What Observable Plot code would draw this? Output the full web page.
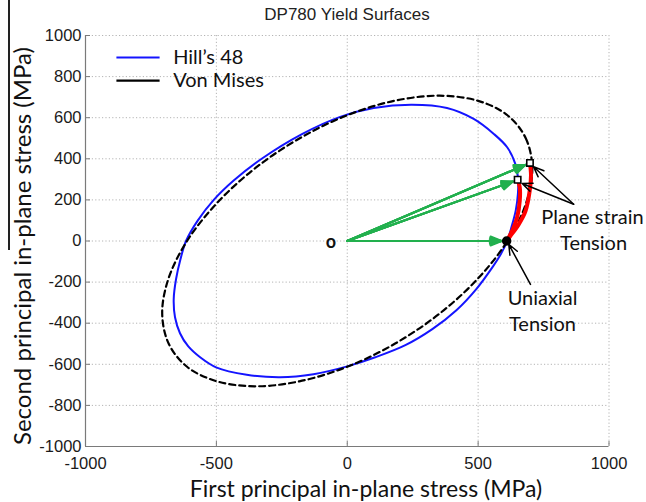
<!DOCTYPE html>
<html>
<head>
<meta charset="utf-8">
<script src="https://cdn.jsdelivr.net/npm/d3@7"></script>
<script src="https://cdn.jsdelivr.net/npm/@observablehq/plot@0.6"></script>
<style>
  body { margin: 0; background: #fff; }
  #fig { position: relative; width: 646px; height: 502px; overflow: hidden; }
  #fig svg { position: absolute; left: 0; top: 0; }
  .lbl { position: absolute; white-space: nowrap; color: #111; font-family: Lato, "Open Sans", sans-serif; }
  #title { left: 0; width: 694px; top: 5px; text-align: center; font: 17px "Liberation Sans", Arial, sans-serif; color: #222; }
  #xlabel { left: 0; width: 732px; top: 474px; text-align: center; font-size: 23px; }
  #ylabel { left: 21px; top: 246px; font-size: 24px; transform: translate(-50%, -50%) rotate(-90deg); }
  #edge { position: absolute; left: 8px; top: 0; width: 1.5px; height: 250px; background: #222; }
</style>
</head>
<body>
<div id="fig">
  <div id="edge"></div>
  <div class="lbl" id="title">DP780 Yield Surfaces</div>
  <div class="lbl" id="xlabel">First principal in-plane stress (MPa)</div>
  <div class="lbl" id="ylabel">Second principal in-plane stress (MPa)</div>
</div>
<script>
// Hill's 48 yield locus (MPa): first / second principal stress, counter-clockwise from uniaxial tension
const hillS1 = [611, 628, 644, 652, 653, 642, 611, 560, 483, 381, 247, 101, -27,
                -173, -327, -435, -510, -572, -616,
                -637, -654, -663, -658, -639, -608, -562, -501, -384, -256, -129, 0,
                107, 222, 325, 417, 493, 555, 589];
const hillS2 = [0, 70, 150, 230, 300, 375, 456, 521, 594, 647, 663, 647, 604,
                520, 400, 293, 200, 98, 0,
                -88, -185, -283, -371, -449, -512, -566, -615, -651, -663, -648, -610,
                -566, -507, -429, -337, -234, -127, -59];

// Von Mises yield locus (MPa)
const misesS1 = [612, 682, 707, 683, 612, 499, 353, 183, 0, -183, -353, -500, -612, -682, -707, -683, -612, -499, -353, -183, 0, 183, 353, 500];
const misesS2 = [612, 500, 353, 183, 0, -183, -353, -499, -612, -683, -707, -682, -612, -500, -353, -183, 0, 183, 353, 499, 612, 683, 707, 682];

// Strain-path loci from uniaxial to plane strain tension (red)
const pathHillS1 = [609, 630, 649, 659, 659, 651];
const pathHillS2 = [0, 49, 114, 195, 262, 298];
const pathMisesS1 = [609, 623, 655, 681, 697, 702, 698];
const pathMisesS2 = [0, 24, 81, 146, 244, 320, 380];

// Loading states reached from the origin O
const stateNames = ["Uniaxial", "Plane strain (Hill's 48)", "Plane strain (Von Mises)"];
const stateS1 = [609, 651, 698];
const stateS2 = [0, 298, 380];

// Annotation callouts: text anchor and arrow tips
const noteText = ["Plane strain", "Tension", "Uniaxial", "Tension"];
const noteS1 = [937, 941, 746, 746];
const noteS2 = [114, -15, -278, -405];
const calloutFromS1 = [865, 865, 700];
const calloutFromS2 = [179, 179, -211];
const calloutToS1 = [712, 668, 617];
const calloutToS2 = [361, 280, -16];

// Axis ticks
const xTicks = [-1000, -500, 0, 500, 1000];
const yTicks = [-1000, -800, -600, -400, -200, 0, 200, 400, 600, 800, 1000];

// Legend
const seriesNames = ["Hill’s 48", "Von Mises"];
const seriesColors = ["#1414ff", "#000000"];

const hill = hillS1.map((s1, i) => ({s1, s2: hillS2[i]}));
const mises = misesS1.map((s1, i) => ({s1, s2: misesS2[i]}));
const pathHill = pathHillS1.map((s1, i) => ({s1, s2: pathHillS2[i]}));
const pathMises = pathMisesS1.map((s1, i) => ({s1, s2: pathMisesS2[i]}));
const states = stateNames.map((name, i) => ({name, s1: stateS1[i], s2: stateS2[i]}));
const notes = noteText.map((text, i) => ({text, s1: noteS1[i], s2: noteS2[i]}));
const callouts = calloutFromS1.map((x1, i) => ({x1, y1: calloutFromS2[i], x2: calloutToS1[i], y2: calloutToS2[i]}));

// legend placement, in plot units
const legendX1 = -880, legendX2 = -715, legendTextX = -665;
const legendY = [893, 780];
const legend = seriesNames.map((name, i) => ({name, color: seriesColors[i], y: legendY[i]}));

const green = "#22b04e";
const grid = {stroke: "#b4b4b4", strokeOpacity: 1, strokeDasharray: "1.2,2.2", strokeWidth: 1};

// filled-looking arrowheads built from nested heads
const greenArrows = [44, 32, 20, 8].map(a =>
  Plot.arrow(states, {x1: 0, y1: 0, x2: "s1", y2: "s2", stroke: green, strokeWidth: 2,
                      headLength: 9, headAngle: a, insetEnd: 5})
);

const chart = Plot.plot({
  width: 646,
  height: 502,
  marginLeft: 85,
  marginRight: 37.5,
  marginTop: 35,
  marginBottom: 56,
  x: {domain: [-1000, 1000]},
  y: {domain: [-1000, 1000]},
  style: {fontFamily: "'Liberation Sans', Arial, sans-serif", fontSize: "16.5px", color: "#1a1a1a", background: "transparent"},
  marks: [
    Plot.gridX(xTicks, grid),
    Plot.gridY(yTicks, grid),
    Plot.ruleX([-1000], {stroke: "#7a7a7a", strokeWidth: 1.2}),
    Plot.ruleY([-1000], {stroke: "#7a7a7a", strokeWidth: 1.2}),
    Plot.axisX(xTicks, {tickSize: -5, tickPadding: 16, stroke: "#7a7a7a", label: null, tickFormat: d => String(d)}),
    Plot.axisY(yTicks, {tickSize: -5, tickPadding: 9, stroke: "#7a7a7a", label: null, tickFormat: d => String(d)}),

    Plot.line(hill, {x: "s1", y: "s2", curve: "catmull-rom-closed", stroke: seriesColors[0], strokeWidth: 2}),
    Plot.line(mises, {x: "s1", y: "s2", curve: "catmull-rom-closed", stroke: seriesColors[1], strokeWidth: 2.2, strokeDasharray: "6,4"}),

    Plot.line(pathHill, {x: "s1", y: "s2", curve: "catmull-rom", stroke: "#ff0000", strokeWidth: 4}),
    Plot.line(pathMises, {x: "s1", y: "s2", curve: "catmull-rom", stroke: "#ff0000", strokeWidth: 4}),

    ...greenArrows,

    Plot.dot(states.slice(0, 1), {x: "s1", y: "s2", r: 4, fill: "#000", stroke: "#000"}),
    Plot.dot(states.slice(1), {x: "s1", y: "s2", symbol: "square", r: 3.6, fill: "#fff", stroke: "#000", strokeWidth: 1.6}),

    Plot.arrow(callouts, {x1: "x1", y1: "y1", x2: "x2", y2: "y2", stroke: "#000", strokeWidth: 1.5, headLength: 11, headAngle: 45}),

    Plot.text(notes, {x: "s1", y: "s2", text: "text", fontFamily: "Lato, sans-serif", fontSize: 20, fill: "#111"}),
    Plot.text(["o"], {x: -62, y: 0, text: d => d, fontFamily: "Lato, sans-serif", fontWeight: "bold", fontSize: 18, fill: "#111", dy: 1}),

    Plot.ruleY(legend, {y: "y", x1: legendX1, x2: legendX2, stroke: "color", strokeWidth: 2.2,
                        strokeDasharray: d => d.name === "Von Mises" ? "6,4" : null}),
    Plot.text(legend, {x: legendTextX, y: "y", text: "name", textAnchor: "start", fontFamily: "Lato, sans-serif", fontSize: 20, fill: "#111"})
  ]
});

document.getElementById("fig").prepend(chart);
</script>
</body>
</html>
